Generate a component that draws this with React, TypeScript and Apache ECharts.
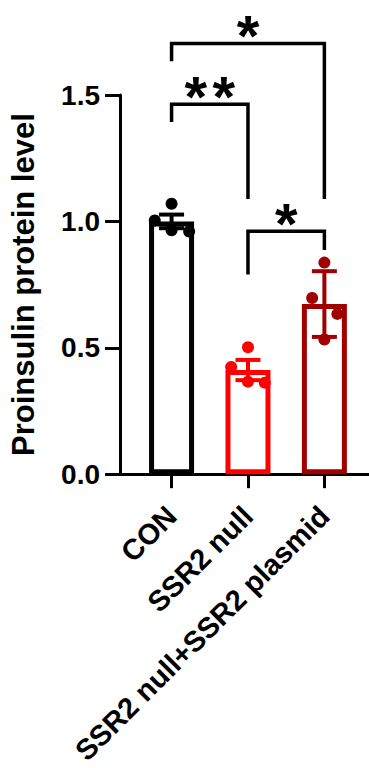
import React, { useEffect, useRef } from "react";
import * as echarts from "echarts";

const categories = ["CON", "SSR2 null", "SSR2 null+SSR2 plasmid"];
const groupColors = ["#000000", "#FF0000", "#A00000"];
const means = [1.0, 0.412, 0.673];
const sds = [0.027, 0.04, 0.13];
const dotsCON = [1.07, 1.004, 0.965, 0.96];
const dotsNull = [0.502, 0.424, 0.366, 0.362];
const dotsPlasmid = [0.837, 0.697, 0.634, 0.533];
const jitterCON = [0, -0.22, 0, 0.23];
const jitterNull = [0, -0.22, 0, 0.22];
const jitterPlasmid = [0, -0.16, 0.17, 0];
// brackets: [fromGroup, toGroup, barY, leftEndY, rightEndY]
const brackets = [
  [0, 2, 1.704, 1.634, 1.089],
  [0, 1, 1.463, 1.393, 1.089],
  [1, 2, 0.961, 0.79, 0.887],
];
const bracketStars = [1, 2, 1];

const FONT = 'Arial, "Liberation Sans", sans-serif';

export default function App() {
  const ref = useRef<HTMLDivElement>(null);
  useEffect(() => {
    if (!ref.current) return;
    const chart = echarts.init(ref.current, null, { renderer: "svg" });
    const dotGroups = [dotsCON, dotsNull, dotsPlasmid];
    const jitters = [jitterCON, jitterNull, jitterPlasmid];
    const option: any = {
      animation: false,
      grid: { left: 118, right: 0, top: 95, height: 385, containLabel: false },
      xAxis: {
        type: "value",
        min: -0.675,
        max: 2.584,
        splitLine: { show: false },
        axisLine: { show: true, onZero: false, lineStyle: { color: "#000", width: 3 } },
        axisTick: { show: true, customValues: [0, 1, 2], length: 14, lineStyle: { color: "#000", width: 3 } },
        axisLabel: {
          customValues: [0, 1, 2],
          rotate: 45,
          margin: 37,
          formatter: (v: number) => categories[Math.round(v)],
          fontSize: 29,
          fontWeight: "bold",
          fontFamily: FONT,
          color: "#000",
        },
      },
      yAxis: {
        type: "value",
        min: 0,
        max: 1.5,
        interval: 0.5,
        splitLine: { show: false },
        axisLine: { show: true, onZero: false, lineStyle: { color: "#000", width: 3 } },
        axisTick: { show: true, length: 15, lineStyle: { color: "#000", width: 3 } },
        axisLabel: {
          margin: 20,
          formatter: (v: number) => v.toFixed(1),
          fontSize: 28,
          fontWeight: "bold",
          fontFamily: FONT,
          color: "#000",
        },
        name: "Proinsulin protein level",
        nameLocation: "middle",
        nameGap: 81,
        nameTextStyle: { fontSize: 31, fontWeight: "bold", fontFamily: FONT, color: "#000" },
      },
      series: [
        {
          type: "bar",
          barWidth: 45,
          z: 2,
          data: means.map((m, i) => ({
            value: [i, m],
            itemStyle: { color: "#fff", borderColor: groupColors[i], borderWidth: 5 },
          })),
        },
        {
          type: "custom",
          z: 4,
          data: means.map((m, i) => [i, m, sds[i]]),
          renderItem: (params: any, api: any) => {
            const x = api.value(0);
            const m = api.value(1);
            const s = api.value(2);
            const top = api.coord([x, m + s]);
            const bot = api.coord([x, m - s]);
            const c = groupColors[params.dataIndex];
            const hw = 12.5;
            const st = { stroke: c, lineWidth: 4 };
            return {
              type: "group",
              children: [
                { type: "line", shape: { x1: top[0], y1: top[1], x2: bot[0], y2: bot[1] }, style: st },
                { type: "line", shape: { x1: top[0] - hw, y1: top[1], x2: top[0] + hw, y2: top[1] }, style: st },
                { type: "line", shape: { x1: bot[0] - hw, y1: bot[1], x2: bot[0] + hw, y2: bot[1] }, style: st },
              ],
            };
          },
        },
        ...dotGroups.map((g, gi) => ({
          type: "scatter",
          z: 3,
          symbol: "circle",
          symbolSize: 12,
          itemStyle: { color: groupColors[gi], opacity: 1 },
          data: g.map((v, k) => [gi + jitters[gi][k], v]),
        })),
        {
          type: "custom",
          z: 5,
          clip: false,
          data: brackets,
          renderItem: (params: any, api: any) => {
            const x1 = api.value(0);
            const x2 = api.value(1);
            const yb = api.value(2);
            const yl = api.value(3);
            const yr = api.value(4);
            const pL = api.coord([x1, yl]);
            const pLT = api.coord([x1, yb]);
            const pRT = api.coord([x2, yb]);
            const pR = api.coord([x2, yr]);
            const n = bracketStars[params.dataIndex];
            const cx = (pLT[0] + pRT[0]) / 2;
            const gap = 28;
            const stars = [];
            for (let k = 0; k < n; k++) {
              stars.push({
                type: "text",
                x: cx + (k - (n - 1) / 2) * gap,
                y: pLT[1] - 8,
                style: {
                  text: "*",
                  fontSize: 58,
                  lineHeight: 28,
                  fontWeight: "bold",
                  fontFamily: FONT,
                  fill: "#000",
                  align: "center",
                  verticalAlign: "middle",
                },
              });
            }
            return {
              type: "group",
              children: [
                {
                  type: "polyline",
                  shape: { points: [pL, pLT, pRT, pR] },
                  style: { stroke: "#000", lineWidth: 3.5, fill: "none" },
                },
                ...stars,
              ],
            };
          },
        },
      ],
    };
    chart.setOption(option);
    return () => chart.dispose();
  }, []);
  return (
    <div
      ref={ref}
      style={{ position: "fixed", left: 0, top: 0, width: 369, height: 768, background: "#fff" }}
    />
  );
}
